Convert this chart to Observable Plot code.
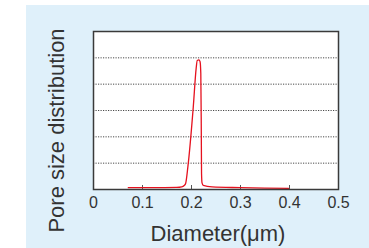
<!DOCTYPE html>
<html>
<head>
<meta charset="utf-8">
<script src="https://cdn.jsdelivr.net/npm/d3@7"></script>
<script src="https://cdn.jsdelivr.net/npm/@observablehq/plot@0.6"></script>
<style>
  html, body { margin: 0; padding: 0; background: #ffffff; }
  #wrap { position: relative; width: 369px; height: 248px; overflow: hidden; }
  #bg { position: absolute; left: 26px; top: 5px; width: 343px; height: 243px; background: #dff0fa; }
  #chart { position: absolute; left: 0; top: 0; }
  #chart svg { background: transparent; }
</style>
</head>
<body>
<div id="wrap"><div id="bg"></div><div id="chart"></div></div>
<script>
// Data
const diameter = [0.071, 0.12, 0.17, 0.18, 0.185, 0.188, 0.1926, 0.2036, 0.2095, 0.2117, 0.2150, 0.2175, 0.2190, 0.2199, 0.2205, 0.2215, 0.224, 0.242, 0.30, 0.35, 0.398];
const distribution = [0.07, 0.07, 0.08, 0.10, 0.15, 0.23, 0.86, 3.13, 4.6, 4.9, 4.92, 4.85, 4.4, 2.5, 0.6, 0.25, 0.16, 0.10, 0.07, 0.05, 0.04];
const xTicks = [0, 0.1, 0.2, 0.3, 0.4, 0.5];
const xInnerTicks = [0.1, 0.2, 0.3, 0.4];
const gridValues = [1, 2, 3, 4, 5];
const xTitle = "Diameter(μm)";
const yTitle = "Pore size distribution";

const data = diameter.map((d, i) => ({x: d, y: distribution[i]}));

const chart = Plot.plot({
  width: 369,
  height: 248,
  marginLeft: 93,
  marginRight: 31,
  marginTop: 31,
  marginBottom: 59,
  style: {fontFamily: "Liberation Sans, Arial, sans-serif", background: "transparent", color: "#333"},
  x: {domain: [0, 0.5]},
  y: {domain: [0, 6], axis: null},
  marks: [
    Plot.frame({fill: "#ffffff"}),
    Plot.ruleY(gridValues, {stroke: "#4a4a4a", strokeWidth: 1, strokeDasharray: "1.2,1.3"}),
    Plot.axisX(xTicks, {tickSize: 0, tickPadding: 7, fontSize: 16, fill: "#333",
      tickFormat: d => d === 0 ? "0" : d.toFixed(1), label: null}),
    Plot.axisX(xInnerTicks, {tickSize: -4, text: null, label: null, stroke: "#555"}),
    Plot.line(data, {x: "x", y: "y", stroke: "#e5121f", strokeWidth: 1.3, curve: "monotone-x"}),
    Plot.frame({stroke: "#3a3a3a", strokeWidth: 1.5}),
    Plot.text([xTitle], {frameAnchor: "bottom", dy: 51, dx: 2, lineAnchor: "bottom", fontSize: 22, fill: "#333"}),
    Plot.text([yTitle], {frameAnchor: "left", textAnchor: "middle", dx: -29.5, dy: 20, rotate: -90, lineAnchor: "bottom", fontSize: 22, fill: "#333"})
  ]
});
document.getElementById("chart").appendChild(chart);
</script>
</body>
</html>
